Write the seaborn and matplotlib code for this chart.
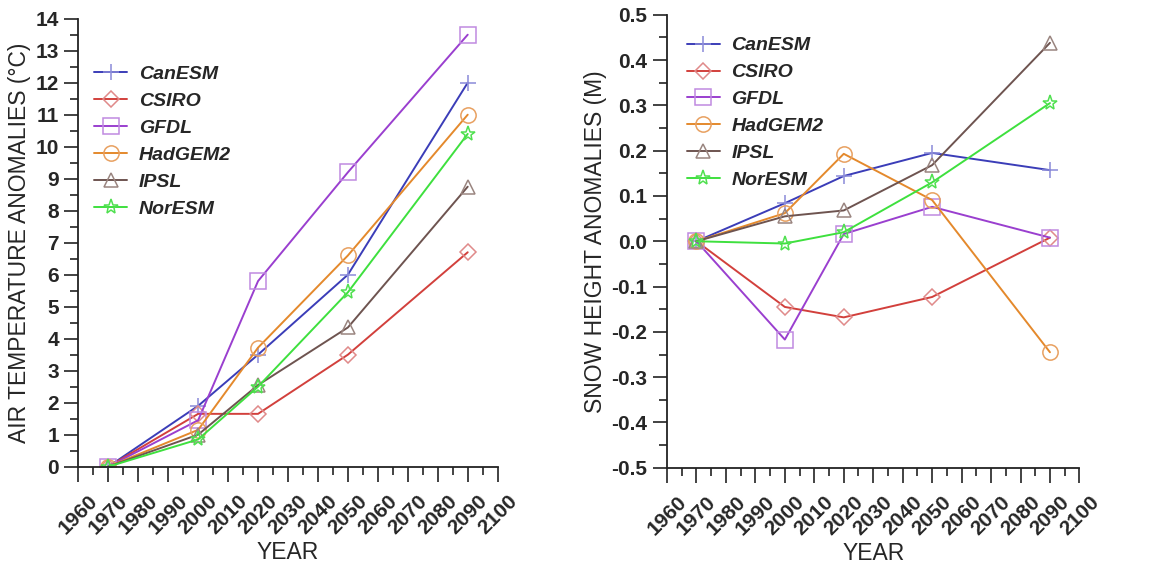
import numpy as np
import pandas as pd
import seaborn as sns
import matplotlib.pyplot as plt
from matplotlib.ticker import MultipleLocator

sns.set_style('white')
plt.rcParams['font.family'] = ['Liberation Sans', 'DejaVu Sans']
plt.rcParams['axes.unicode_minus'] = False

years = [1970, 2000, 2020, 2050, 2090]
models = ['CanESM', 'CSIRO', 'GFDL', 'HadGEM2', 'IPSL', 'NorESM']

# air temperature anomalies (deg C)
temp_canesm = [0, 1.9, 3.5, 6.0, 12.0]
temp_csiro = [0, 1.65, 1.65, 3.5, 6.7]
temp_gfdl = [0, 1.45, 5.8, 9.2, 13.5]
temp_hadgem2 = [0, 1.15, 3.72, 6.6, 11.0]
temp_ipsl = [0, 1.0, 2.55, 4.35, 8.75]
temp_noresm = [0, 0.85, 2.5, 5.45, 10.4]

# snow height anomalies (m)
snow_canesm = [0, 0.084, 0.144, 0.195, 0.157]
snow_csiro = [0, -0.145, -0.168, -0.123, 0.008]
snow_gfdl = [0, -0.217, 0.016, 0.076, 0.008]
snow_hadgem2 = [0, 0.062, 0.193, 0.091, -0.245]
snow_ipsl = [0, 0.055, 0.068, 0.168, 0.438]
snow_noresm = [0, -0.005, 0.02, 0.13, 0.305]

temps = [temp_canesm, temp_csiro, temp_gfdl, temp_hadgem2, temp_ipsl, temp_noresm]
snows = [snow_canesm, snow_csiro, snow_gfdl, snow_hadgem2, snow_ipsl, snow_noresm]

line_colors = ['#3b3db8', '#d2403c', '#9a3fcf', '#e4892c', '#6e5450', '#3ee03e']
edge_colors = ['#8a8ad8', '#e08a8a', '#c08ae0', '#e8a060', '#9a8580', '#50e050']
markers = ['+', 'D', 's', 'o', '^', '*']
msizes = [11, 8, 12, 11, 10, 11]


def draw(ax, series, ylim, major, minor, ylabel, fmt):
    for name, vals, lc, ec, m, ms in zip(models, series, line_colors, edge_colors, markers, msizes):
        df = pd.DataFrame({'year': years, 'val': vals})
        sns.lineplot(data=df, x='year', y='val', ax=ax, color=lc, linewidth=1.4,
                     marker=m, markersize=ms, markerfacecolor='none',
                     markeredgecolor=ec, markeredgewidth=1.1, label=name)
    ax.set_xlim(1960, 2100)
    ax.set_ylim(*ylim)
    ax.xaxis.set_major_locator(MultipleLocator(10))
    ax.xaxis.set_minor_locator(MultipleLocator(5))
    ax.yaxis.set_major_locator(MultipleLocator(major))
    ax.yaxis.set_minor_locator(MultipleLocator(minor))
    ax.yaxis.set_major_formatter(fmt)
    for s in ['top', 'right']:
        ax.spines[s].set_visible(False)
    for s in ['left', 'bottom']:
        ax.spines[s].set_color('#222222')
        ax.spines[s].set_linewidth(1.3)
    ax.tick_params(which='major', direction='out', length=10, width=1.2, color='#222222',
                   left=True, bottom=True)
    ax.tick_params(which='minor', direction='out', length=5.5, width=1.2, color='#222222',
                   left=True, bottom=True)
    ax.tick_params(axis='x', which='major', length=11)
    ax.tick_params(axis='y', labelsize=15, pad=4)
    ax.tick_params(axis='x', labelsize=15, pad=7)
    for t in ax.get_yticklabels():
        t.set_fontweight('bold')
    for t in ax.get_xticklabels():
        t.set_fontweight('bold')
        t.set_rotation(45)
        t.set_ha('center')
    ax.set_xlabel('YEAR', fontsize=16.5, labelpad=2)
    ax.set_ylabel(ylabel, fontsize=16.5, labelpad=3)
    ax.legend(loc='upper left', frameon=False, handlelength=1.7,
              prop={'style': 'italic', 'weight': 'bold', 'size': 14},
              labelspacing=0.48, handletextpad=0.6)


fig = plt.figure(figsize=(11.52, 5.67), dpi=100)
ax1 = fig.add_axes([0.068, 0.177, 0.364, 0.790])
ax2 = fig.add_axes([0.579, 0.175, 0.358, 0.799])

draw(ax1, temps, (0, 14), 1, 0.5, 'AIR TEMPERATURE ANOMALIES (\u00b0C)', '{x:.0f}')
draw(ax2, snows, (-0.5, 0.5), 0.1, 0.05, 'SNOW HEIGHT ANOMALIES (M)', '{x:.1f}')

ax1.legend_.set_bbox_to_anchor((-0.004, 0.935))
ax2.legend_.set_bbox_to_anchor((0.005, 0.99))

fig.savefig('out.png', dpi=100)
